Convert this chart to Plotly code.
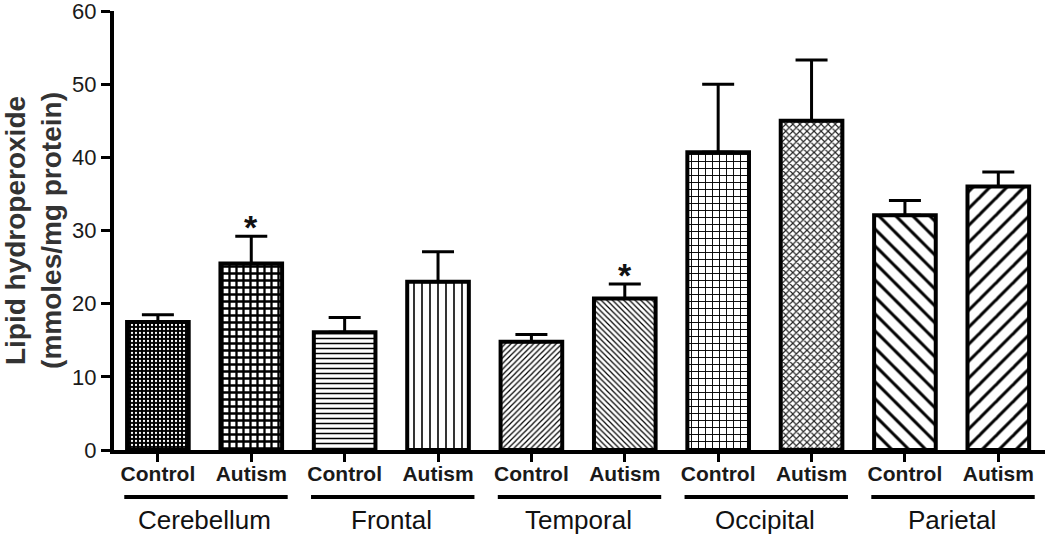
import plotly.graph_objects as go

# Lipid hydroperoxide per brain region, control vs autism
regions = ["Cerebellum", "Frontal", "Temporal", "Occipital", "Parietal"]
groups = ["Control", "Autism"]
values = [17.5, 25.5, 16.1, 23.0, 14.8, 20.7, 40.7, 45.0, 32.1, 36.0]
errors = [1.0, 3.7, 2.0, 4.1, 1.0, 2.0, 9.3, 8.3, 2.0, 2.0]
significant = [False, True, False, False, False, True, False, False, False, False]
yticks = [0, 10, 20, 30, 40, 50, 60]

# fill hatch for each bar, in the same order as values
shapes = [".", "+", "-", "|", "/", "\\", "+", "x", "\\", "/"]
fg = ["white", "black", "black", "black", "black", "black", "black", "#222222", "black", "black"]
bg = ["black", "white", "white", "white", "white", "white", "white", "white", "white", "white"]
psize = [4, 7, 5, 8, 4, 4, 7, 5, 12, 12]
solid = [0.25, 0.55, 0.3, 0.2, 0.3, 0.3, 0.25, 0.4, 0.25, 0.25]

FONT = "Arial, Liberation Sans, sans-serif"
x = list(range(len(values)))
ticktext = [f"<b>{groups[i % 2]}</b>" for i in x]

fig = go.Figure()
fig.add_trace(go.Bar(
    x=x, y=values, width=0.66,
    marker=dict(
        color="white",
        line=dict(color="black", width=4),
        pattern=dict(shape=shapes, fgcolor=fg, bgcolor=bg, size=psize,
                     solidity=solid, fillmode="replace"),
    ),
    error_y=dict(type="data", array=errors, arrayminus=[0] * len(errors),
                 color="black", thickness=3, width=16),
    showlegend=False,
))

# asterisks above significant bars
for i, sig in enumerate(significant):
    if sig:
        fig.add_annotation(x=i, y=values[i] + errors[i], text="<b>*</b>",
                           showarrow=False, yanchor="bottom", yshift=-12,
                           font=dict(size=34, color="#111111", family=FONT))

# region brackets and labels under the tick labels
for g, name in enumerate(regions):
    fig.add_shape(type="line", xref="x", yref="paper",
                  x0=2 * g - 0.36, x1=2 * g + 1.39, y0=-0.107, y1=-0.107,
                  line=dict(color="black", width=4))
    fig.add_annotation(x=2 * g + 0.5, xref="x", y=-0.16, yref="paper",
                       text=name, showarrow=False, yanchor="middle",
                       font=dict(size=26, color="#111111", family=FONT))

fig.update_xaxes(
    range=[-0.47, 9.5], tickvals=x, ticktext=ticktext,
    showline=True, linecolor="black", linewidth=4,
    ticks="outside", ticklen=8, tickwidth=3, tickcolor="black",
    tickfont=dict(size=21, color="#1a1a1a", family=FONT),
    showgrid=False, zeroline=False, automargin=False,
)
try:
    fig.update_xaxes(ticklabelstandoff=-6)
except ValueError:
    pass
fig.update_yaxes(
    range=[0, 60], tickvals=yticks,
    tickprefix="<b>", ticksuffix="</b>",
    showline=True, linecolor="black", linewidth=4,
    ticks="outside", ticklen=9, tickwidth=3, tickcolor="black",
    tickfont=dict(size=22, color="#1a1a1a", family=FONT),
    showgrid=False, zeroline=False, automargin=False,
    ticklabeloverflow="allow",
    title=dict(text="<b>Lipid hydroperoxide<br>(mmoles/mg protein)</b>",
               font=dict(size=28, color="#333333", family=FONT), standoff=35),
)
fig.update_layout(
    width=1050, height=534,
    margin=dict(l=114, r=5, t=11, b=84),
    plot_bgcolor="white", paper_bgcolor="white",
    font=dict(family=FONT),
)

# drop the page's default 8px body margin so the figure fills the window
fig.write_html("out.html", config={"displayModeBar": False},
               post_script="document.body.style.margin='0';")
